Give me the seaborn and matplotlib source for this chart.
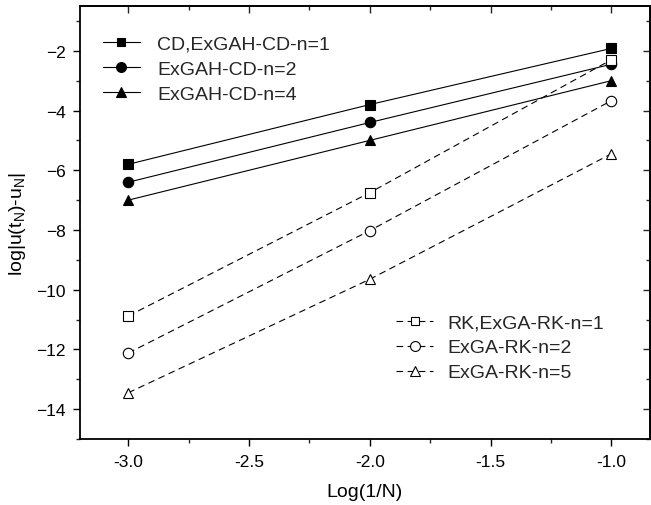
import numpy as np
import pandas as pd
import matplotlib
matplotlib.use("Agg")
import matplotlib.pyplot as plt
import seaborn as sns
from matplotlib.ticker import MultipleLocator, FormatStrFormatter

sns.set_theme(style="white")
plt.rcParams['font.family'] = ['Liberation Sans', 'DejaVu Sans']
plt.rcParams['mathtext.fontset'] = 'custom'
plt.rcParams['mathtext.rm'] = 'Liberation Sans'

x = [-3.0, -2.0, -1.0]
cd_n1 = [-5.8, -3.8, -1.92]
cd_n2 = [-6.4, -4.4, -2.45]
cd_n4 = [-7.0, -5.0, -3.0]
rk_n1 = [-10.88, -6.75, -2.3]
rk_n2 = [-12.12, -8.02, -3.67]
rk_n5 = [-13.45, -9.65, -5.45]

labels_cd = ["CD,ExGAH-CD-n=1", "ExGAH-CD-n=2", "ExGAH-CD-n=4"]
labels_rk = ["RK,ExGA-RK-n=1", "ExGA-RK-n=2", "ExGA-RK-n=5"]

fig = plt.figure(figsize=(6.51, 5.06), dpi=100)
ax = fig.add_axes([0.1229, 0.1304, 0.8755, 0.8557])

dash = (0, (6, 4))
series = [
    (cd_n1, labels_cd[0], 's', 'black', '-'),
    (cd_n2, labels_cd[1], 'o', 'black', '-'),
    (cd_n4, labels_cd[2], '^', 'black', '-'),
    (rk_n1, labels_rk[0], 's', 'white', dash),
    (rk_n2, labels_rk[1], 'o', 'white', dash),
    (rk_n5, labels_rk[2], '^', 'white', dash),
]
handles = []
for ys, lab, mk, fc, ls in series:
    df = pd.DataFrame({"x": x, "y": ys})
    sns.lineplot(data=df, x="x", y="y", ax=ax, color='black', linewidth=0.8,
                 linestyle=ls, marker=mk, markersize=7.5 if mk != 's' else 6.5,
                 markerfacecolor=fc, markeredgecolor='black', markeredgewidth=0.8)
    handles.append(ax.lines[-1])

ax.set_xlim(-3.2, -0.84)
ax.set_ylim(-15, -0.5)
ax.xaxis.set_major_locator(MultipleLocator(0.5))
ax.xaxis.set_minor_locator(MultipleLocator(0.25))
ax.yaxis.set_major_locator(MultipleLocator(2))
ax.yaxis.set_minor_locator(MultipleLocator(1))
ax.xaxis.set_major_formatter(FormatStrFormatter('%.1f'))
ax.tick_params(axis='both', which='major', direction='out', length=5, width=1,
               labelsize=12.5, colors='black', bottom=True, left=True)
ax.tick_params(axis='x', which='major', pad=6)
ax.tick_params(axis='y', which='major', pad=5)
ax.tick_params(axis='both', which='minor', direction='out', length=3, width=1,
               bottom=True, left=True)
for s in ax.spines.values():
    s.set_color('black')
    s.set_linewidth(1.3)

top = ax.secondary_xaxis('top')
top.xaxis.set_major_locator(MultipleLocator(0.5))
top.xaxis.set_minor_locator(MultipleLocator(0.25))
top.tick_params(which='major', direction='in', length=5, width=1, labeltop=False)
top.tick_params(which='minor', direction='in', length=3, width=1)
top.spines['top'].set_linewidth(1.3)
right = ax.secondary_yaxis('right')
right.yaxis.set_major_locator(MultipleLocator(2))
right.yaxis.set_minor_locator(MultipleLocator(1))
right.tick_params(which='major', direction='in', length=5, width=1, labelright=False)
right.tick_params(which='minor', direction='in', length=3, width=1)

ax.set_xlabel("Log(1/N)", fontsize=14, color='black', labelpad=10)
ax.set_ylabel(r"log|u(t$_\mathrm{N}$)-u$_\mathrm{N}$|", fontsize=14, color='black', labelpad=6)

leg1 = ax.legend(handles[:3], labels_cd, loc='upper left', bbox_to_anchor=(0.04, 0.933),
                 frameon=False, fontsize=14, handlelength=1.9, handletextpad=0.9,
                 labelspacing=0.38, borderaxespad=0, borderpad=0, markerscale=0.95)
ax.add_artist(leg1)
ax.legend(handles[3:], labels_rk, loc='upper left', bbox_to_anchor=(0.555, 0.289),
          frameon=False, fontsize=14, handlelength=1.9, handletextpad=0.75,
          labelspacing=0.38, borderaxespad=0, borderpad=0, markerscale=0.95)

fig.savefig("out.png", dpi=100)
